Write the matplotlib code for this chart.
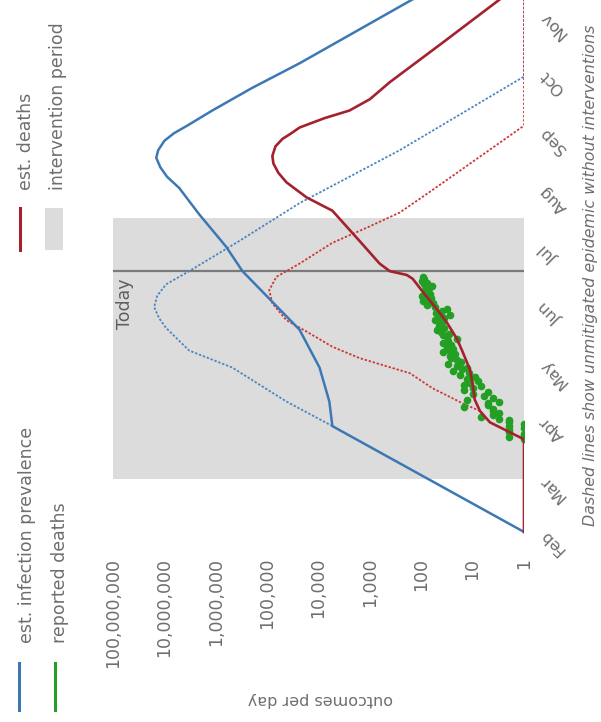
import matplotlib
matplotlib.use('Agg')
import matplotlib.pyplot as plt
from matplotlib.lines import Line2D
from matplotlib.patches import Rectangle
from matplotlib.ticker import NullLocator
import pandas as pd

# est. infection prevalence (with interventions)
prev_dates = ['2020-02-01', '2020-03-28', '2020-04-10', '2020-04-28', '2020-05-18',
              '2020-06-18', '2020-07-01', '2020-07-18', '2020-08-01', '2020-08-07',
              '2020-08-12', '2020-08-17', '2020-08-21', '2020-08-26', '2020-08-30',
              '2020-09-03', '2020-09-11', '2020-09-23', '2020-10-06', '2020-11-08',
              '2020-11-15']
prev_vals = [1, 5370, 6150, 9550, 23400, 302000, 630000, 2090000, 5130000, 8900000,
             12000000, 14400000, 13200000, 10000000, 6500000, 3600000, 1170000,
             195000, 23400, 167, 59]

# est. infection prevalence, unmitigated
prev_nolock_dates = ['2020-03-28', '2020-04-10', '2020-04-28', '2020-05-07', '2020-05-19',
                     '2020-05-24', '2020-05-30', '2020-06-05', '2020-06-11', '2020-06-18',
                     '2020-07-04', '2020-07-24', '2020-08-21', '2020-09-29', '2020-11-15']
prev_nolock_vals = [5370, 42000, 478000, 3300000, 9300000, 12600000, 15800000, 13800000,
                    9300000, 3300000, 347000, 23400, 263, 1, 1]

# est. deaths (with interventions)
death_dates = ['2020-02-01', '2020-03-21', '2020-03-30', '2020-04-05', '2020-04-11',
               '2020-04-19', '2020-04-27', '2020-05-06', '2020-05-13', '2020-05-22',
               '2020-05-29', '2020-06-07', '2020-06-14', '2020-06-16', '2020-06-18',
               '2020-06-22', '2020-07-04', '2020-07-20', '2020-07-27', '2020-08-04',
               '2020-08-09', '2020-08-14', '2020-08-18', '2020-08-23', '2020-08-27',
               '2020-08-30', '2020-09-02', '2020-09-07', '2020-09-11', '2020-09-17',
               '2020-09-26', '2020-10-17', '2020-11-09']
death_vals = [1, 1, 4.6, 7.2, 9.1, 10, 11.3, 15.5, 20, 32, 50, 93, 147, 192, 410,
              646, 1590, 5370, 17000, 42000, 60300, 75600, 79000, 69000, 50300,
              33700, 23400, 7600, 2500, 1000, 410, 38, 2.9]

# est. deaths, unmitigated
death_nolock_dates = ['2020-04-05', '2020-04-09', '2020-04-17', '2020-04-25', '2020-04-29',
                      '2020-05-03', '2020-05-09', '2020-05-17', '2020-05-23', '2020-06-01',
                      '2020-06-08', '2020-06-15', '2020-06-22', '2020-07-03', '2020-07-11',
                      '2020-07-19', '2020-07-31', '2020-09-03', '2020-11-15']
death_nolock_vals = [7.2, 15.5, 60, 167, 517, 1590, 5370, 17000, 42000, 79000, 91000,
                     66000, 23400, 5370, 1150, 263, 60, 1, 1]

# reported deaths, daily from 21 March
reported_start = '2020-03-21'
reported_vals = [1, 2, 1, 1, 2, 2, 1, 2, 1, 2, 2, 3, 7, 4, 3, 4, 4, 15, 5, 5,
                 3, 13, 4, 6, 10, 5, 15, 10, 7, 15, 11, 8, 13, 9, 18, 12, 24, 16, 13, 20,
                 30, 17, 20, 26, 28, 22, 38, 27, 24, 32, 26, 38, 30, 20, 32, 38, 29, 42, 50, 36,
                 45, 44, 40, 55, 36, 47, 28, 52, 40, 32, 55, 78, 60, 93, 70, 65, 98, 68, 80, 85,
                 72, 63, 90, 78, 95, 88, 93]

intervention = ('2020-02-29', '2020-07-16')
today = '2020-06-18'

value_ticks = [1, 10, 100, 1000, 10000, 100000, 1000000, 10000000, 100000000]
month_ticks = ['2020-02-01', '2020-03-01', '2020-04-01', '2020-05-01', '2020-06-01',
               '2020-07-01', '2020-08-01', '2020-09-01', '2020-10-01', '2020-11-01']
month_labels = ['Feb', 'Mar', 'Apr', 'May', 'Jun', 'Jul', 'Aug', 'Sep', 'Oct', 'Nov']

BLUE = '#3d78b4'
BLUE_DOT = '#4a86c2'
RED = '#a3222e'
RED_DOT = '#cc3838'
GREEN = '#23a023'
GREY = '#dcdcdc'
TXT = '#6e6e6e'

W, H = 601, 722
fig = plt.figure(figsize=(W / 100, H / 100), dpi=100)
fig.patch.set_facecolor('white')

# the chart is laid on its side: values run right-to-left, time runs upwards
ax = fig.add_axes([113 / W, 1 - 548 / H, (524 - 113) / W, 548 / H])
ax.set_xscale('log')

ax.axhspan(pd.Timestamp(intervention[0]), pd.Timestamp(intervention[1]),
           color=GREY, lw=0, zorder=0)
ax.axhline(pd.Timestamp(today), color='#7a7a7a', lw=1.6, zorder=1)

dot = (0, (1.3, 1.0))
ax.plot(prev_nolock_vals, pd.to_datetime(prev_nolock_dates), color=BLUE_DOT, lw=1.3, ls=dot, zorder=2)
ax.plot(death_nolock_vals, pd.to_datetime(death_nolock_dates), color=RED_DOT, lw=1.3, ls=dot, zorder=2)
ax.plot(prev_vals, pd.to_datetime(prev_dates), color=BLUE, lw=1.8, zorder=3)
rep_dates = pd.date_range(reported_start, periods=len(reported_vals), freq='D')
ax.plot(reported_vals, rep_dates, 'o', ms=5.5, color=GREEN, mec='none', zorder=4)
ax.plot(death_vals, pd.to_datetime(death_dates), color=RED, lw=1.9, zorder=5)

ax.annotate('Today', xy=(0.03, pd.Timestamp(today)), xycoords=('axes fraction', 'data'),
            xytext=(0, -5), textcoords='offset points', rotation=90, rotation_mode='anchor',
            ha='right', va='center', fontsize=12.5, color='#5e5e5e')

ax.set_xlim(1e8, 1)
ax.set_ylim(pd.Timestamp('2020-01-23 12:00'), pd.Timestamp('2020-11-08 12:00'))

ax.set_xticks(value_ticks)
ax.set_xticklabels([f'{v:,}' for v in value_ticks], rotation=90, ha='center', va='top')
ax.xaxis.set_minor_locator(NullLocator())
ax.tick_params(axis='x', length=0, pad=7, labelsize=12.5, labelcolor=TXT)

ax.yaxis.tick_right()
ax.set_yticks(pd.to_datetime(month_ticks))
ax.set_yticklabels(month_labels, rotation=135, rotation_mode='anchor', ha='right', va='center')
ax.tick_params(axis='y', length=0, pad=13, labelsize=11.5, labelcolor=TXT)

for s in ax.spines.values():
    s.set_visible(False)
ax.set_facecolor('white')


def fx(x):
    return x / W


def fy(y):
    return 1 - y / H


fig.text(fx(320), fy(700), 'outcomes per day', rotation=180, ha='center', va='center',
         fontsize=11.5, color=TXT)
fig.text(fx(591), fy(275), 'Dashed lines show unmitigated epidemic without interventions',
         rotation=90, ha='center', va='center', fontsize=11.4, style='italic', color=TXT)

# legend, turned with the chart
legend = [
    ('est. infection prevalence', BLUE, 19, 27, (663, 710), 643),
    ('reported deaths', GREEN, 55, 60, (663, 710), 643),
    ('est. deaths', RED, 20, 26, (208, 250), 190),
]
for label, color, hx, tx, (y0, y1), ty in legend:
    fig.add_artist(Line2D([fx(hx), fx(hx)], [fy(y0), fy(y1)], color=color, lw=2.2,
                          transform=fig.transFigure))
    fig.text(fx(tx), fy(ty), label, rotation=90, rotation_mode='anchor', ha='left',
             va='center', fontsize=12.5, color=TXT)
fig.add_artist(Rectangle((fx(45), fy(250)), fx(63) - fx(45), fy(208) - fy(250),
                         color=GREY, lw=0, transform=fig.transFigure))
fig.text(fx(58), fy(190), 'intervention period', rotation=90, rotation_mode='anchor',
         ha='left', va='center', fontsize=12.5, color=TXT)

fig.savefig('out.png', dpi=100)
